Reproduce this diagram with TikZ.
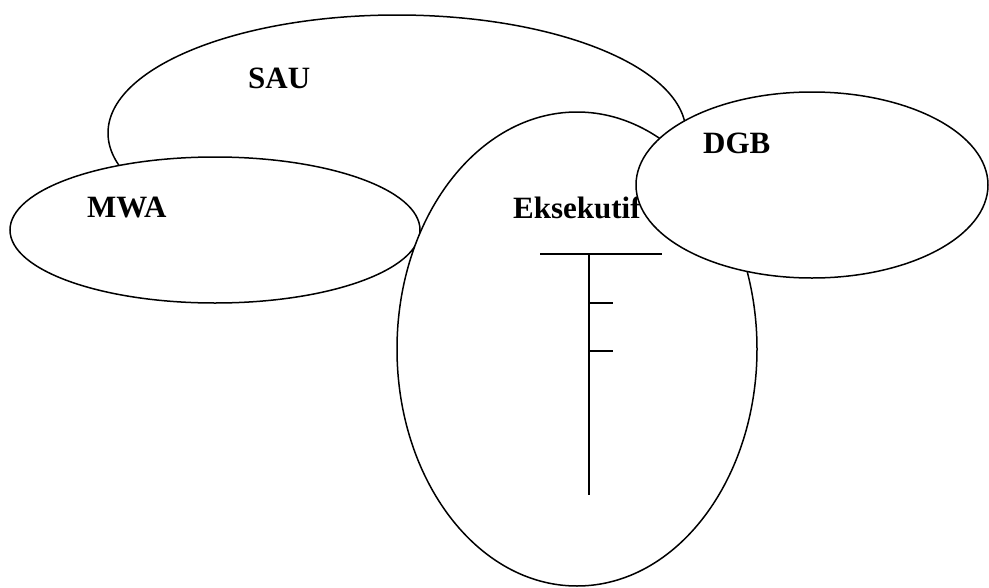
\documentclass[tikz,border=0pt]{standalone}
\usepackage{fontspec}
\setmainfont{Liberation Serif}
\usetikzlibrary{shapes.geometric}
\begin{document}
\begin{tikzpicture}[x=1pt,y=-1pt,
  blob/.style={ellipse,draw=black,fill=white,line width=1.5pt,inner sep=0pt},
  lbl/.style={anchor=base west,inner sep=0pt,font=\fontsize{31}{37}\selectfont\bfseries},
  rule/.style={draw=black,line width=1.6pt}]
\useasboundingbox (0,0) rectangle (989,587);
\node[blob,minimum width=578pt,minimum height=236pt] (sau) at (397,133) {};
\node[lbl] (sautxt) at (248,88) {SAU};
\node[blob,minimum width=410pt,minimum height=146pt] (mwa) at (215,230) {};
\node[lbl] (mwatxt) at (87,217) {MWA};
\node[blob,minimum width=360pt,minimum height=474pt] (eks) at (577,349) {};
\node[lbl] (ekstxt) at (513,218) {Eksekutif};
\coordinate (hl) at (540,254);
\coordinate (hr) at (662,254);
\coordinate (vt) at (589,254);
\coordinate (vb) at (589,495);
\coordinate (t1a) at (589,303);
\coordinate (t1b) at (613,303);
\coordinate (t2a) at (589,351);
\coordinate (t2b) at (613,351);
\draw[rule] (hl) -- (hr);
\draw[rule] (vt) -- (vb);
\draw[rule] (t1a) -- (t1b);
\draw[rule] (t2a) -- (t2b);
\node[blob,minimum width=352pt,minimum height=186pt] (dgb) at (812,185) {};
\node[lbl] (dgbtxt) at (703,153) {DGB};
\end{tikzpicture}
\end{document}
